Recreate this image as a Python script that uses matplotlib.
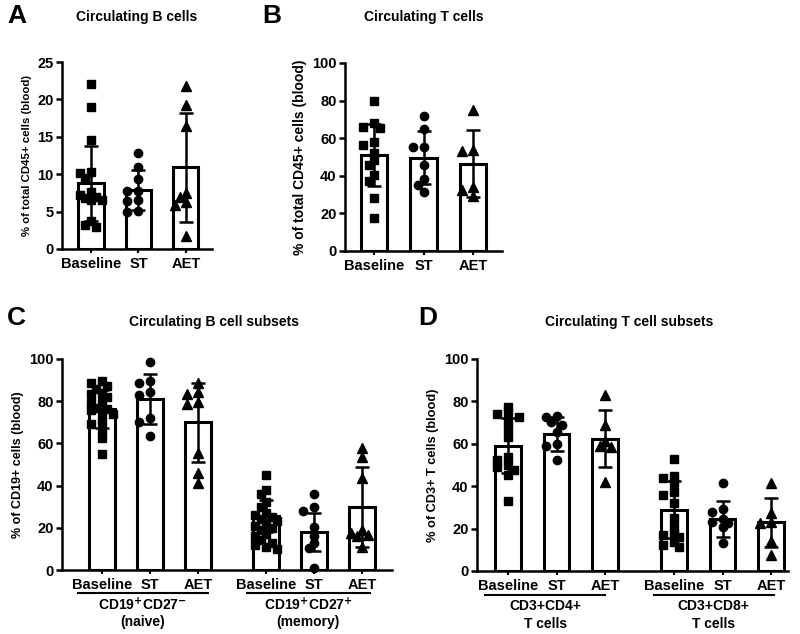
import numpy as np
import matplotlib
matplotlib.use('Agg')
import matplotlib.pyplot as plt

plt.rcParams['font.family'] = ['Liberation Sans', 'DejaVu Sans']
plt.rcParams['font.weight'] = 'bold'
plt.rcParams['mathtext.default'] = 'bf'

groups = ['Baseline', 'ST', 'AET']

# A - circulating B cells (% of CD45+)
a_base = [22.1, 19.0, 14.6, 10.3, 10.2, 9.5, 7.6, 7.2, 7.0, 6.8, 6.6, 6.5, 3.7, 3.2, 3.0]
a_st = [12.9, 10.9, 9.4, 7.8, 7.7, 6.6, 6.4, 5.1, 5.0]
a_aet = [21.8, 19.3, 16.4, 7.5, 7.0, 6.3, 5.9, 1.8]
a_mean = [8.8, 7.9, 10.9]
a_sd = [5.0, 2.7, 7.3]

# B - circulating T cells (% of CD45+)
b_base = [79.8, 67.9, 66.1, 65.2, 57.8, 56.4, 52.3, 48.4, 45.7, 40.4, 37.4, 28.4, 17.4]
b_st = [71.8, 64.9, 55.5, 55.3, 45.7, 38.1, 35.1, 31.5]
b_aet = [75.0, 53.6, 53.2, 34.2, 32.4, 29.4]
b_mean = [51.0, 49.6, 46.5]
b_sd = [16.3, 14.2, 17.6]

# C - B cell subsets (% of CD19+)
c_naive_base = [89.5, 88.5, 87, 86, 84, 83.5, 82, 80, 79, 77, 76.5, 76, 75, 74, 70.5, 69, 66.5, 62.5, 55]
c_naive_st = [98.7, 89.7, 88.4, 84.5, 82.9, 71.9, 70.3, 63.5]
c_naive_aet = [88.8, 84.2, 83.5, 79.8, 78.9, 55.3, 45.8, 41.4]
c_mem_base = [45, 38, 36, 32, 30, 27, 26, 25, 24, 23, 22, 21, 20, 19, 17, 16, 14, 13, 12, 11, 10]
c_mem_st = [36, 29.7, 28.1, 20.5, 16.1, 12.6, 10.3, 0.8]
c_mem_aet = [57.7, 53.4, 43.5, 19, 17.4, 16.6, 16.2, 11]
c_mean = [76.5, 81.0, 70.0, 25.5, 18.2, 29.7]
c_sd = [9.0, 12.0, 18.7, 7.5, 9.0, 19.0]

# D - T cell subsets (% of CD3+)
d_cd4_base = [77.5, 74.4, 74.0, 72.8, 70.5, 67, 63.1, 53.9, 52.5, 50, 48.9, 47.6, 45.3, 33.2]
d_cd4_st = [73.3, 72.8, 70.4, 68.9, 65.7, 59.8, 59.0, 52.4]
d_cd4_aet = [83, 68.9, 61.5, 58.8, 58.4, 42.1]
d_cd8_base = [52.7, 44.8, 43.7, 41.4, 37.4, 35.8, 32.2, 24.9, 20.9, 17.8, 17, 16, 13.8, 12.3, 11.5]
d_cd8_st = [41.4, 29.1, 27.7, 24.5, 23.3, 22.8, 20.9, 13.1]
d_cd8_aet = [41.4, 27.5, 23.3, 22.5, 14.3, 7.5]
d_mean = [59.0, 64.8, 62.5, 29.0, 24.6, 23.0]
d_sd = [13.0, 8.0, 13.4, 13.6, 8.5, 11.6]

markers = ['s', 'o', '^']
W, H = 800, 634


def swarm(vals, ppu_x, ppu_y, step=5.5, dmin=6.5):
    # simple beeswarm: spread points sideways when they overlap, at most 2 steps
    placed = []
    offs = []
    for v in vals:
        y = v * ppu_y
        best, bestd = 0, -1
        for k in [0, -1, 1, -2, 2]:
            x = k * step
            d = min([np.hypot(x - px, y - py) for px, py in placed] + [99])
            if d >= dmin:
                best = x
                break
            if d > bestd:
                best, bestd = x, d
        placed.append((best, y))
        offs.append(best / ppu_x)
    return np.array(offs)


def panel(rect, xs, xlim, data, means, sds, ymax, ystep, ylabel, ylsize):
    ax = fig.add_axes(rect)
    ax.set_xlim(*xlim)
    ax.set_ylim(0, ymax)
    ppu_x = rect[2] * W / (xlim[1] - xlim[0])
    ppu_y = rect[3] * H / ymax
    ax.bar(xs, means, width=0.53, color='white', edgecolor='black', linewidth=2.2, zorder=1)
    for i, vals in enumerate(data):
        off = swarm(vals, ppu_x, ppu_y)
        ax.plot(xs[i] + off, vals, linestyle='none', marker=markers[i % 3],
                markersize=6 if i % 3 != 2 else 6.5, color='black', zorder=3, clip_on=False)
    ax.errorbar(xs, means, yerr=sds, fmt='none', ecolor='black', elinewidth=1.8,
                capsize=5, capthick=1.8, zorder=4)
    ax.spines['top'].set_visible(False)
    ax.spines['right'].set_visible(False)
    for s in ['left', 'bottom']:
        ax.spines[s].set_linewidth(1.8)
    ax.set_yticks(np.arange(0, ymax + 0.1, ystep))
    ax.set_xticks(xs)
    ax.set_xticklabels(groups * (len(xs) // 3))
    ax.tick_params(axis='y', width=1.8, length=4, labelsize=10.5, pad=2)
    ax.tick_params(axis='x', width=1.5, length=3, labelsize=10.5, pad=3)
    for t in ax.get_xticklabels() + ax.get_yticklabels():
        t.set_fontweight('bold')
    ax.set_ylabel(ylabel, fontsize=ylsize, fontweight='bold', labelpad=4)
    return ax


fig = plt.figure(figsize=(W / 100, H / 100), dpi=100)

xs3 = np.array([0, 1, 2])
xs6 = np.array([0, 1, 2, 3.42, 4.42, 5.42])

axA = panel([62 / W, 1 - 249 / H, 150 / W, 187 / H], xs3, (-0.61, 2.55),
            [a_base, a_st, a_aet], a_mean, a_sd, 25, 5,
            '% of total CD45+ cells (blood)', 8.2)
axB = panel([345 / W, 1 - 251 / H, 157 / W, 188 / H], xs3, (-0.59, 2.59),
            [b_base, b_st, b_aet], b_mean, b_sd, 100, 20,
            '% of total CD45+ cells (blood)', 10)
axC = panel([62 / W, 1 - 570 / H, 330 / W, 211 / H], xs6, (-0.83, 6.04),
            [c_naive_base, c_naive_st, c_naive_aet, c_mem_base, c_mem_st, c_mem_aet],
            c_mean, c_sd, 100, 20, '% of CD19+ cells (blood)', 9)
axD = panel([477 / W, 1 - 571 / H, 311 / W, 212 / H], xs6, (-0.64, 5.77),
            [d_cd4_base, d_cd4_st, d_cd4_aet, d_cd8_base, d_cd8_st, d_cd8_aet],
            d_mean, d_sd, 100, 20, '% of CD3+ T cells (blood)', 9.2)

# titles and panel letters
fig.text(137 / W, 1 - 17 / H, 'Circulating B cells', ha='center', va='center', fontsize=10, fontweight='bold')
fig.text(424 / W, 1 - 17 / H, 'Circulating T cells', ha='center', va='center', fontsize=10, fontweight='bold')
fig.text(214 / W, 1 - 322 / H, 'Circulating B cell subsets', ha='center', va='center', fontsize=10, fontweight='bold')
fig.text(629 / W, 1 - 322 / H, 'Circulating T cell subsets', ha='center', va='center', fontsize=10, fontweight='bold')
for letter, x, y in [('A', 7, 16), ('B', 262, 16), ('C', 7, 318), ('D', 418, 318)]:
    fig.text(x / W, 1 - y / H, letter, ha='left', va='center', fontsize=19, fontweight='bold')

# group brackets under subsets panels
def group_label(ax, x0, x1, lines, ly, ty):
    tr = ax.get_xaxis_transform()
    ax.plot([x0, x1], [ly, ly], color='black', linewidth=1.5, transform=tr, clip_on=False)
    for j, s in enumerate(lines):
        ax.text((x0 + x1) / 2, ty[j], s, transform=tr, ha='center', va='center',
                fontsize=10, fontweight='bold')

group_label(axC, -0.5, 2.21, [r'CD19$^{+}$CD27$^{-}$', '(naive)'], -0.109, [-0.166, -0.246])
group_label(axC, 3.02, 5.58, [r'CD19$^{+}$CD27$^{+}$', '(memory)'], -0.109, [-0.166, -0.246])
group_label(axD, -0.47, 2.0, ['CD3+CD4+', 'T cells'], -0.113, [-0.163, -0.248])
group_label(axD, 3.0, 5.48, ['CD3+CD8+', 'T cells'], -0.113, [-0.163, -0.248])

fig.savefig('out.png', dpi=100)
